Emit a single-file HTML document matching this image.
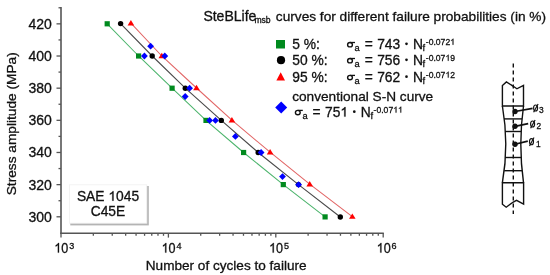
<!DOCTYPE html>
<html><head><meta charset="utf-8"><style>
html,body{margin:0;padding:0;background:#fff;width:550px;height:275px;overflow:hidden}
svg{position:absolute;left:0;top:0;will-change:transform}
text{font-family:"Liberation Sans",sans-serif;fill:#111;stroke:#111;stroke-width:0.3px}
.sg{font-family:"Liberation Serif",serif}
</style></head><body>
<svg width="550" height="275" viewBox="0 0 550 275">
<defs><filter id="bl" x="-10%" y="-10%" width="120%" height="120%"><feGaussianBlur stdDeviation="0.55"/></filter></defs>
<rect x="70.3" y="186" width="78.5" height="39.4" fill="#b4b4b4" filter="url(#bl)"/>
<rect x="69.5" y="184.8" width="77.3" height="38.4" fill="#fff" stroke="#f1f1f1" stroke-width="0.8"/>
<text x="76.93" y="200.70" font-size="13.8">SAE </text><path transform="translate(108.37,200.70) scale(0.006738,-0.006738)" d="M763,0 L583,0 L583,1100 C540,1060 483,1020 413,981 C343,942 280,912 224,892 L224,1060 C325,1106 413,1161 488,1225 C563,1290 616,1352 647,1409 L763,1409 Z" fill="#111" stroke="#111" stroke-width="0.3" vector-effect="non-scaling-stroke"/><text x="116.05" y="200.70" font-size="13.8">045</text>
<text x="108" y="216.1" font-size="13.8" text-anchor="middle">C45E</text>
<line x1="61" y1="7.1" x2="61" y2="233.8" stroke="#555" stroke-width="1.6"/>
<line x1="60.2" y1="233.3" x2="383.8" y2="233.3" stroke="#555" stroke-width="1.6"/>
<line x1="56.5" y1="216.80" x2="61" y2="216.80" stroke="#555" stroke-width="1.3"/>
<line x1="56.5" y1="184.64" x2="61" y2="184.64" stroke="#555" stroke-width="1.3"/>
<line x1="56.5" y1="152.48" x2="61" y2="152.48" stroke="#555" stroke-width="1.3"/>
<line x1="56.5" y1="120.32" x2="61" y2="120.32" stroke="#555" stroke-width="1.3"/>
<line x1="56.5" y1="88.17" x2="61" y2="88.17" stroke="#555" stroke-width="1.3"/>
<line x1="56.5" y1="56.01" x2="61" y2="56.01" stroke="#555" stroke-width="1.3"/>
<line x1="56.5" y1="23.85" x2="61" y2="23.85" stroke="#555" stroke-width="1.3"/>
<line x1="58.5" y1="200.72" x2="61" y2="200.72" stroke="#555" stroke-width="1.3"/>
<line x1="58.5" y1="168.56" x2="61" y2="168.56" stroke="#555" stroke-width="1.3"/>
<line x1="58.5" y1="136.40" x2="61" y2="136.40" stroke="#555" stroke-width="1.3"/>
<line x1="58.5" y1="104.25" x2="61" y2="104.25" stroke="#555" stroke-width="1.3"/>
<line x1="58.5" y1="72.09" x2="61" y2="72.09" stroke="#555" stroke-width="1.3"/>
<line x1="58.5" y1="39.93" x2="61" y2="39.93" stroke="#555" stroke-width="1.3"/>
<line x1="58.5" y1="7.77" x2="61" y2="7.77" stroke="#555" stroke-width="1.3"/>
<line x1="61.00" y1="233" x2="61.00" y2="237.6" stroke="#555" stroke-width="1.3"/>
<line x1="93.33" y1="233" x2="93.33" y2="235.8" stroke="#555" stroke-width="1.3"/>
<line x1="112.24" y1="233" x2="112.24" y2="235.8" stroke="#555" stroke-width="1.3"/>
<line x1="125.66" y1="233" x2="125.66" y2="235.8" stroke="#555" stroke-width="1.3"/>
<line x1="136.07" y1="233" x2="136.07" y2="235.8" stroke="#555" stroke-width="1.3"/>
<line x1="144.57" y1="233" x2="144.57" y2="235.8" stroke="#555" stroke-width="1.3"/>
<line x1="151.76" y1="233" x2="151.76" y2="235.8" stroke="#555" stroke-width="1.3"/>
<line x1="157.99" y1="233" x2="157.99" y2="235.8" stroke="#555" stroke-width="1.3"/>
<line x1="163.49" y1="233" x2="163.49" y2="235.8" stroke="#555" stroke-width="1.3"/>
<line x1="168.40" y1="233" x2="168.40" y2="237.6" stroke="#555" stroke-width="1.3"/>
<line x1="200.73" y1="233" x2="200.73" y2="235.8" stroke="#555" stroke-width="1.3"/>
<line x1="219.64" y1="233" x2="219.64" y2="235.8" stroke="#555" stroke-width="1.3"/>
<line x1="233.06" y1="233" x2="233.06" y2="235.8" stroke="#555" stroke-width="1.3"/>
<line x1="243.47" y1="233" x2="243.47" y2="235.8" stroke="#555" stroke-width="1.3"/>
<line x1="251.97" y1="233" x2="251.97" y2="235.8" stroke="#555" stroke-width="1.3"/>
<line x1="259.16" y1="233" x2="259.16" y2="235.8" stroke="#555" stroke-width="1.3"/>
<line x1="265.39" y1="233" x2="265.39" y2="235.8" stroke="#555" stroke-width="1.3"/>
<line x1="270.89" y1="233" x2="270.89" y2="235.8" stroke="#555" stroke-width="1.3"/>
<line x1="275.80" y1="233" x2="275.80" y2="237.6" stroke="#555" stroke-width="1.3"/>
<line x1="308.13" y1="233" x2="308.13" y2="235.8" stroke="#555" stroke-width="1.3"/>
<line x1="327.04" y1="233" x2="327.04" y2="235.8" stroke="#555" stroke-width="1.3"/>
<line x1="340.46" y1="233" x2="340.46" y2="235.8" stroke="#555" stroke-width="1.3"/>
<line x1="350.87" y1="233" x2="350.87" y2="235.8" stroke="#555" stroke-width="1.3"/>
<line x1="359.37" y1="233" x2="359.37" y2="235.8" stroke="#555" stroke-width="1.3"/>
<line x1="366.56" y1="233" x2="366.56" y2="235.8" stroke="#555" stroke-width="1.3"/>
<line x1="372.79" y1="233" x2="372.79" y2="235.8" stroke="#555" stroke-width="1.3"/>
<line x1="378.29" y1="233" x2="378.29" y2="235.8" stroke="#555" stroke-width="1.3"/>
<line x1="383.20" y1="233" x2="383.20" y2="237.6" stroke="#555" stroke-width="1.3"/>
<polyline points="107.2,23.8 138.6,56 172.1,88.2 206,120.4 243.6,152.5 283.3,184.6 325.1,216.9" fill="none" stroke="#4cb46c" stroke-width="1.05"/>
<polyline points="120.6,23.6 152.2,56 185.3,88.2 221.3,120.4 258.2,152.5 298.5,184.6 340.3,217" fill="none" stroke="#4a4a4a" stroke-width="1.1"/>
<polyline points="130.9,23.2 161.8,56 196.5,88 231.9,120.2 270.1,152.2 309.7,184.2 352.3,216.6" fill="none" stroke="#e26666" stroke-width="1.05"/>
<rect x="104.60" y="21.20" width="5.2" height="5.2" fill="#008a1e"/>
<rect x="136.00" y="53.40" width="5.2" height="5.2" fill="#008a1e"/>
<rect x="169.50" y="85.60" width="5.2" height="5.2" fill="#008a1e"/>
<rect x="203.40" y="117.80" width="5.2" height="5.2" fill="#008a1e"/>
<rect x="241.00" y="149.90" width="5.2" height="5.2" fill="#008a1e"/>
<rect x="280.70" y="182.00" width="5.2" height="5.2" fill="#008a1e"/>
<rect x="322.50" y="214.30" width="5.2" height="5.2" fill="#008a1e"/>
<circle cx="120.6" cy="23.6" r="2.7" fill="#000"/>
<circle cx="152.2" cy="56" r="2.7" fill="#000"/>
<circle cx="185.3" cy="88.2" r="2.7" fill="#000"/>
<circle cx="221.3" cy="120.4" r="2.7" fill="#000"/>
<circle cx="258.2" cy="152.5" r="2.7" fill="#000"/>
<circle cx="298.5" cy="184.6" r="2.7" fill="#000"/>
<circle cx="340.3" cy="217" r="2.7" fill="#000"/>
<path d="M130.90,20.00 L134.20,25.40 L127.60,25.40Z" fill="#ff0000"/>
<path d="M161.80,52.80 L165.10,58.20 L158.50,58.20Z" fill="#ff0000"/>
<path d="M196.50,84.80 L199.80,90.20 L193.20,90.20Z" fill="#ff0000"/>
<path d="M231.90,117.00 L235.20,122.40 L228.60,122.40Z" fill="#ff0000"/>
<path d="M270.10,149.00 L273.40,154.40 L266.80,154.40Z" fill="#ff0000"/>
<path d="M309.70,181.00 L313.00,186.40 L306.40,186.40Z" fill="#ff0000"/>
<path d="M352.30,213.40 L355.60,218.80 L349.00,218.80Z" fill="#ff0000"/>
<path d="M150.60,42.80 L154.00,46.20 L150.60,49.60 L147.20,46.20Z" fill="#0000ff"/>
<path d="M144.40,52.60 L147.80,56.00 L144.40,59.40 L141.00,56.00Z" fill="#0000ff"/>
<path d="M164.80,52.60 L168.20,56.00 L164.80,59.40 L161.40,56.00Z" fill="#0000ff"/>
<path d="M189.60,84.80 L193.00,88.20 L189.60,91.60 L186.20,88.20Z" fill="#0000ff"/>
<path d="M185.20,93.10 L188.60,96.50 L185.20,99.90 L181.80,96.50Z" fill="#0000ff"/>
<path d="M209.60,117.00 L213.00,120.40 L209.60,123.80 L206.20,120.40Z" fill="#0000ff"/>
<path d="M215.50,117.00 L218.90,120.40 L215.50,123.80 L212.10,120.40Z" fill="#0000ff"/>
<path d="M235.40,133.00 L238.80,136.40 L235.40,139.80 L232.00,136.40Z" fill="#0000ff"/>
<path d="M261.10,149.10 L264.50,152.50 L261.10,155.90 L257.70,152.50Z" fill="#0000ff"/>
<path d="M282.50,173.20 L285.90,176.60 L282.50,180.00 L279.10,176.60Z" fill="#0000ff"/>
<path d="M298.60,181.30 L302.00,184.70 L298.60,188.10 L295.20,184.70Z" fill="#0000ff"/>
<g font-size="14" text-anchor="end">
<text x="51.9" y="28.80">420</text>
<text x="51.9" y="60.96">400</text>
<text x="51.9" y="93.12">380</text>
<text x="51.9" y="125.27">360</text>
<text x="51.9" y="157.43">340</text>
<text x="51.9" y="189.59">320</text>
<text x="51.9" y="221.75">300</text>
</g>
<text transform="translate(15.5,195.3) rotate(-90)" font-size="13.7">Stress amplitude (MPa)</text>
<g transform="translate(54.30,252.6) scale(0.9,1)"><path transform="translate(0.00,0.00) scale(0.006836,-0.006836)" d="M763,0 L583,0 L583,1100 C540,1060 483,1020 413,981 C343,942 280,912 224,892 L224,1060 C325,1106 413,1161 488,1225 C563,1290 616,1352 647,1409 L763,1409 Z" fill="#111" stroke="#111" stroke-width="0.3" vector-effect="non-scaling-stroke"/><text x="7.79" y="0.00" font-size="14">0</text></g>
<text x="69.20" y="248.7" font-size="9">3</text>
<g transform="translate(161.60,252.6) scale(0.9,1)"><path transform="translate(0.00,0.00) scale(0.006836,-0.006836)" d="M763,0 L583,0 L583,1100 C540,1060 483,1020 413,981 C343,942 280,912 224,892 L224,1060 C325,1106 413,1161 488,1225 C563,1290 616,1352 647,1409 L763,1409 Z" fill="#111" stroke="#111" stroke-width="0.3" vector-effect="non-scaling-stroke"/><text x="7.79" y="0.00" font-size="14">0</text></g>
<text x="176.50" y="248.7" font-size="9">4</text>
<g transform="translate(269.10,252.6) scale(0.9,1)"><path transform="translate(0.00,0.00) scale(0.006836,-0.006836)" d="M763,0 L583,0 L583,1100 C540,1060 483,1020 413,981 C343,942 280,912 224,892 L224,1060 C325,1106 413,1161 488,1225 C563,1290 616,1352 647,1409 L763,1409 Z" fill="#111" stroke="#111" stroke-width="0.3" vector-effect="non-scaling-stroke"/><text x="7.79" y="0.00" font-size="14">0</text></g>
<text x="284.00" y="248.7" font-size="9">5</text>
<g transform="translate(376.70,252.6) scale(0.9,1)"><path transform="translate(0.00,0.00) scale(0.006836,-0.006836)" d="M763,0 L583,0 L583,1100 C540,1060 483,1020 413,981 C343,942 280,912 224,892 L224,1060 C325,1106 413,1161 488,1225 C563,1290 616,1352 647,1409 L763,1409 Z" fill="#111" stroke="#111" stroke-width="0.3" vector-effect="non-scaling-stroke"/><text x="7.79" y="0.00" font-size="14">0</text></g>
<text x="391.60" y="248.7" font-size="9">6</text>
<text x="145.8" y="269.7" font-size="13.58">Number of cycles to failure</text>
<text x="203.4" y="21.2" font-size="14">SteBLife</text>
<text x="254.4" y="22.8" font-size="8.6">msb</text>
<text x="275.8" y="21.2" font-size="13.68">curves for different failure probabilities (in %)</text>
<rect x="276" y="40" width="9" height="8.5" fill="#008a1e"/>
<circle cx="281" cy="60.2" r="4.1" fill="#000"/>
<path d="M280.7,72.3 L285,80.5 L276.4,80.5Z" fill="#ff0000"/>
<path d="M281.2,101.4 L287.2,107.5 L281.2,113.6 L275.2,107.5Z" fill="#0000ff"/>
<g font-size="13.8">
<text x="292.3" y="48.7">5 %:</text>
<text x="292.3" y="64.7">50 %:</text>
<text x="292.3" y="81.6">95 %:</text>
<ellipse cx="350.00" cy="44.70" rx="2.4" ry="2.2" fill="none" stroke="#111" stroke-width="1.4"/><line x1="350.00" y1="42.50" x2="355.00" y2="42.50" stroke="#111" stroke-width="1.3"/>
<text x="354.6" y="50.7" font-size="9.3">a</text>
<text x="364.8" y="48.7">=</text>
<text x="377.20" y="48.70" font-size="13.8">743</text>
<circle cx="406.5" cy="43.8" r="1.35" fill="#111"/>
<text x="412.9" y="48.7">N</text>
<text x="422.6" y="50.7" font-size="9.3">f</text>
<text x="425.80" y="44.70" font-size="8.6">-0.072</text><path transform="translate(450.18,44.70) scale(0.004199,-0.004199)" d="M763,0 L583,0 L583,1100 C540,1060 483,1020 413,981 C343,942 280,912 224,892 L224,1060 C325,1106 413,1161 488,1225 C563,1290 616,1352 647,1409 L763,1409 Z" fill="#111" stroke="#111" stroke-width="0.3" vector-effect="non-scaling-stroke"/><ellipse cx="350.00" cy="60.70" rx="2.4" ry="2.2" fill="none" stroke="#111" stroke-width="1.4"/><line x1="350.00" y1="58.50" x2="355.00" y2="58.50" stroke="#111" stroke-width="1.3"/>
<text x="354.6" y="66.7" font-size="9.3">a</text>
<text x="364.8" y="64.7">=</text>
<text x="377.20" y="64.70" font-size="13.8">756</text>
<circle cx="406.5" cy="59.8" r="1.35" fill="#111"/>
<text x="412.9" y="64.7">N</text>
<text x="422.6" y="66.7" font-size="9.3">f</text>
<text x="425.80" y="60.70" font-size="8.6">-0.07</text><path transform="translate(445.40,60.70) scale(0.004199,-0.004199)" d="M763,0 L583,0 L583,1100 C540,1060 483,1020 413,981 C343,942 280,912 224,892 L224,1060 C325,1106 413,1161 488,1225 C563,1290 616,1352 647,1409 L763,1409 Z" fill="#111" stroke="#111" stroke-width="0.3" vector-effect="non-scaling-stroke"/><text x="450.18" y="60.70" font-size="8.6">9</text><ellipse cx="350.00" cy="77.60" rx="2.4" ry="2.2" fill="none" stroke="#111" stroke-width="1.4"/><line x1="350.00" y1="75.40" x2="355.00" y2="75.40" stroke="#111" stroke-width="1.3"/>
<text x="354.6" y="83.6" font-size="9.3">a</text>
<text x="364.8" y="81.6">=</text>
<text x="377.20" y="81.60" font-size="13.8">762</text>
<circle cx="406.5" cy="76.7" r="1.35" fill="#111"/>
<text x="412.9" y="81.6">N</text>
<text x="422.6" y="83.6" font-size="9.3">f</text>
<text x="425.80" y="77.60" font-size="8.6">-0.07</text><path transform="translate(445.40,77.60) scale(0.004199,-0.004199)" d="M763,0 L583,0 L583,1100 C540,1060 483,1020 413,981 C343,942 280,912 224,892 L224,1060 C325,1106 413,1161 488,1225 C563,1290 616,1352 647,1409 L763,1409 Z" fill="#111" stroke="#111" stroke-width="0.3" vector-effect="non-scaling-stroke"/><text x="450.18" y="77.60" font-size="8.6">2</text><ellipse cx="297.80" cy="112.60" rx="2.4" ry="2.2" fill="none" stroke="#111" stroke-width="1.4"/><line x1="297.80" y1="110.40" x2="302.80" y2="110.40" stroke="#111" stroke-width="1.3"/>
<text x="302.4" y="118.6" font-size="9.3">a</text>
<text x="312.6" y="116.6">=</text>
<text x="325.00" y="116.60" font-size="13.8">75</text><path transform="translate(340.35,116.60) scale(0.006738,-0.006738)" d="M763,0 L583,0 L583,1100 C540,1060 483,1020 413,981 C343,942 280,912 224,892 L224,1060 C325,1106 413,1161 488,1225 C563,1290 616,1352 647,1409 L763,1409 Z" fill="#111" stroke="#111" stroke-width="0.3" vector-effect="non-scaling-stroke"/>
<circle cx="354.3" cy="111.7" r="1.35" fill="#111"/>
<text x="360.7" y="116.6">N</text>
<text x="370.4" y="118.6" font-size="9.3">f</text>
<text x="373.60" y="112.60" font-size="8.6">-0.07</text><path transform="translate(393.20,112.60) scale(0.004199,-0.004199)" d="M763,0 L583,0 L583,1100 C540,1060 483,1020 413,981 C343,942 280,912 224,892 L224,1060 C325,1106 413,1161 488,1225 C563,1290 616,1352 647,1409 L763,1409 Z" fill="#111" stroke="#111" stroke-width="0.3" vector-effect="non-scaling-stroke"/><path transform="translate(397.98,112.60) scale(0.004199,-0.004199)" d="M763,0 L583,0 L583,1100 C540,1060 483,1020 413,981 C343,942 280,912 224,892 L224,1060 C325,1106 413,1161 488,1225 C563,1290 616,1352 647,1409 L763,1409 Z" fill="#111" stroke="#111" stroke-width="0.3" vector-effect="non-scaling-stroke"/>
<text x="292.2" y="101.3" font-size="13.65">conventional S-N curve</text>
</g>
<g fill="none" stroke="#111" stroke-width="1.4" stroke-linejoin="miter">
<path d="M502.4,106 L502.4,85.6 L506.4,81.9 L513.3,86.3 L516.9,88.8 L523.5,85.3 L523.5,106 Z"/>
<path d="M502.4,182.7 L502.4,204.2 L506.2,207.2 L513.3,202 L516.5,200.4 L523.6,204 L523.6,182.7 Z"/>
<path d="M502.4,106 Q509.2,144.4 502.4,182.7"/>
<path d="M523.5,106 Q518.1,144.4 523.5,182.7"/>
<line x1="504" y1="118.9" x2="522" y2="118.9"/>
<line x1="505" y1="131.5" x2="521.2" y2="131.5"/>
<line x1="505" y1="157.5" x2="521.3" y2="157.5"/>
<line x1="504.2" y1="170.7" x2="522" y2="170.7"/>
<line x1="513.3" y1="63.5" x2="513.3" y2="214" stroke-dasharray="4,3"/>
<line x1="515" y1="111.5" x2="532.6" y2="108.3" stroke-width="1.7"/>
<line x1="515" y1="126.3" x2="528.2" y2="123.6" stroke-width="1.7"/>
<line x1="515" y1="144.3" x2="527.8" y2="141.1" stroke-width="1.7"/>
<ellipse cx="535.6" cy="108" rx="2.0" ry="3.05" stroke-width="1.15"/>
<line x1="533.6" y1="112.3" x2="538.1" y2="103.9" stroke-width="1.15"/>
<ellipse cx="532.6" cy="124" rx="2.0" ry="3.05" stroke-width="1.15"/>
<line x1="530.6" y1="128.3" x2="535.1" y2="119.9" stroke-width="1.15"/>
<ellipse cx="531.5" cy="141.7" rx="2.0" ry="3.05" stroke-width="1.15"/>
<line x1="529.5" y1="146" x2="534" y2="137.6" stroke-width="1.15"/>
</g>
<circle cx="515" cy="111.5" r="2.7" fill="#111"/>
<circle cx="515" cy="126.3" r="2.7" fill="#111"/>
<circle cx="515" cy="144.3" r="2.7" fill="#111"/>
<g font-size="8.4">
<text x="539.1" y="112.8">3</text>
<text x="536.6" y="128.7">2</text>
<text x="536.0" y="146.7">1</text>
</g>
</svg>
</body></html>
